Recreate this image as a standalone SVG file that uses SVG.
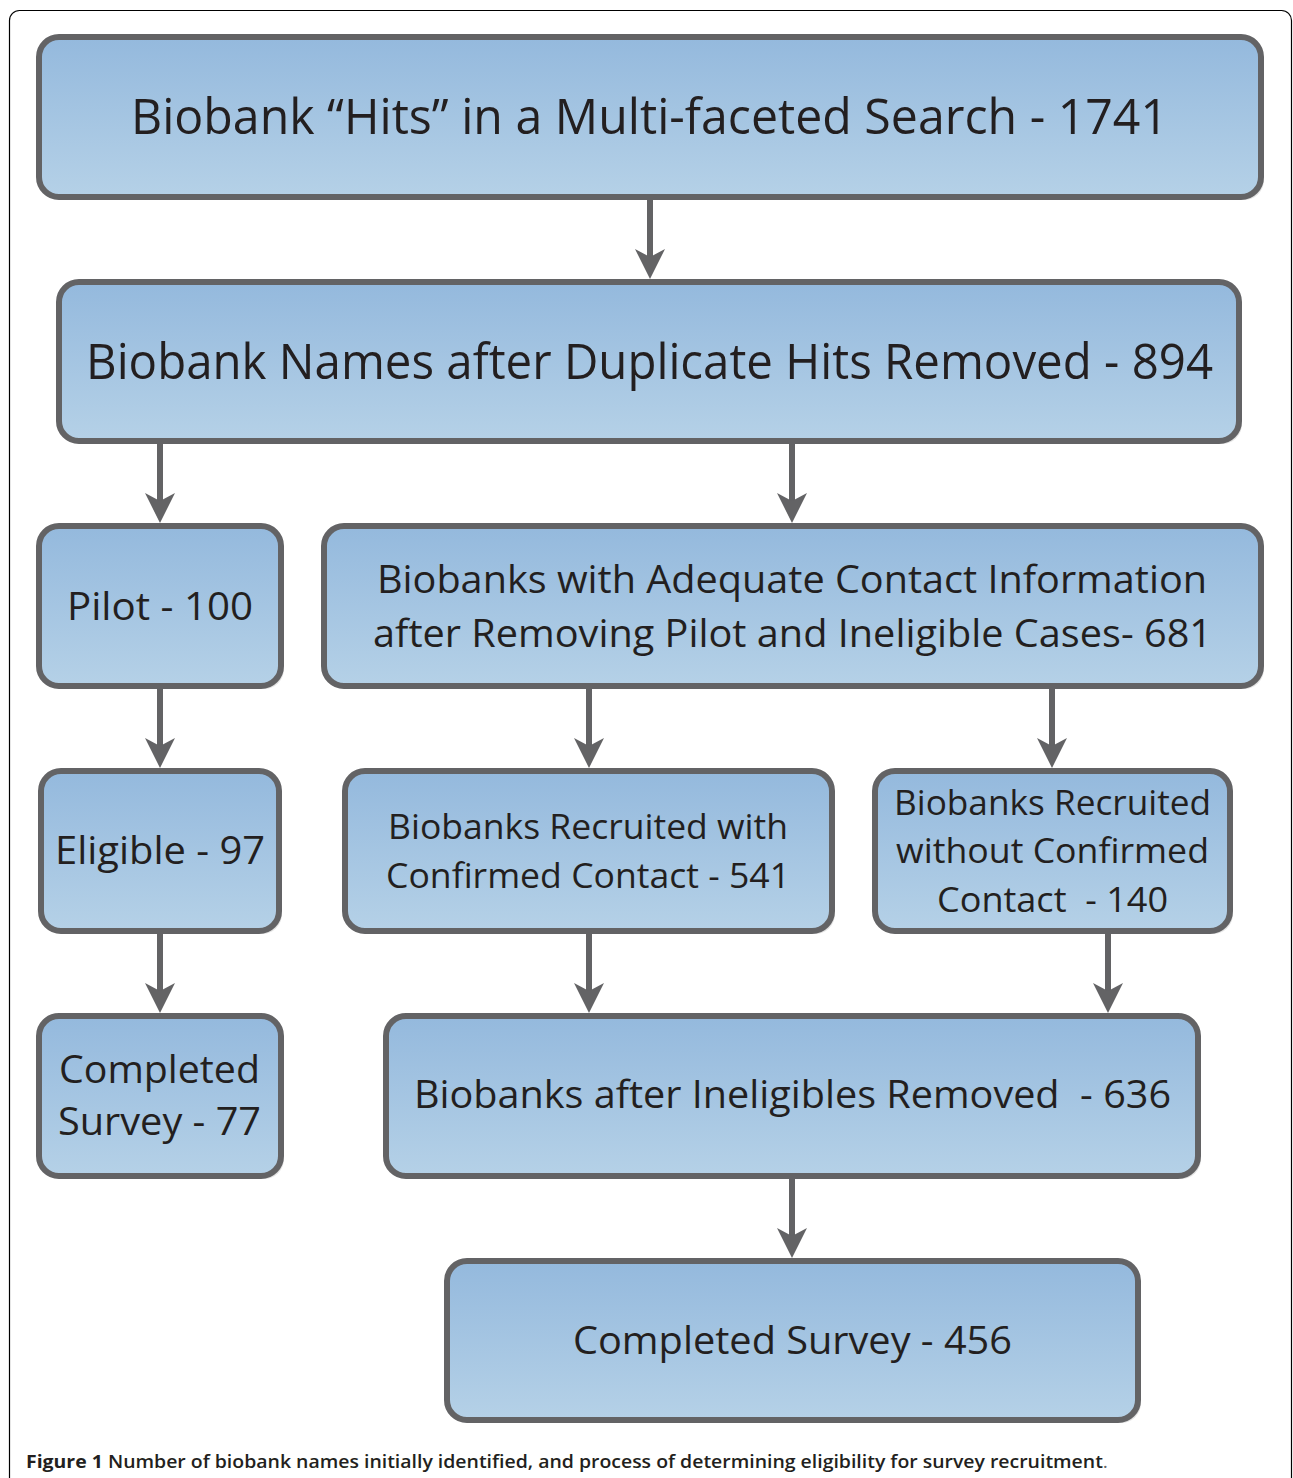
<svg xmlns="http://www.w3.org/2000/svg" width="1293" height="1478" viewBox="0 0 1293 1478">
<defs>
<linearGradient id="g" x1="0" y1="0" x2="0" y2="1">
<stop offset="0" stop-color="#94b9dd"/>
<stop offset="1" stop-color="#b5d1e7"/>
</linearGradient>
<marker id="ah" viewBox="0 0 30 30" refX="20" refY="15" markerWidth="30" markerHeight="30" markerUnits="userSpaceOnUse" orient="auto">
<path d="M0,0 L30,15 L0,30 L8,15 Z" fill="#636365"/>
</marker>
<style>
.b{fill:url(#g);stroke:#636365;stroke-width:6}
.sh{fill:#e4e4e4}
.t{font-family:"Open Sans","Noto Sans","DejaVu Sans",sans-serif;fill:#231f20}
.c{stroke:#636365;stroke-width:6;fill:none;marker-end:url(#ah)}
.cap{font-family:"Open Sans","Liberation Sans",sans-serif;font-size:18px;fill:#231f20;font-weight:600}
</style>
</defs>
<rect x="9.5" y="10.5" width="1282" height="1520" rx="10" fill="#fff" stroke="#000" stroke-width="1.2"/>
<g id="n1"><rect class="sh" x="42" y="40" width="1222" height="160" rx="20"/><rect class="b" x="39" y="37" width="1222" height="160" rx="20"/>
<text class="t" x="131" y="134" font-size="49" textLength="1037" lengthAdjust="spacingAndGlyphs">Biobank “Hits” in a Multi-faceted Search - 1741</text></g>
<g id="n2"><rect class="sh" x="62" y="285" width="1180" height="159" rx="20"/><rect class="b" x="59" y="282" width="1180" height="159" rx="20"/>
<text class="t" x="86" y="379" font-size="49" textLength="1127" lengthAdjust="spacingAndGlyphs">Biobank Names after Duplicate Hits Removed - 894</text></g>
<g id="n3"><rect class="sh" x="42" y="529" width="242" height="160" rx="20"/><rect class="b" x="39" y="526" width="242" height="160" rx="20"/>
<text class="t" x="67" y="620" font-size="39" textLength="186" lengthAdjust="spacingAndGlyphs">Pilot - 100</text></g>
<g id="n4"><rect class="sh" x="327" y="529" width="937" height="160" rx="20"/><rect class="b" x="324" y="526" width="937" height="160" rx="20"/>
<text class="t" x="377" y="593" font-size="39" textLength="830" lengthAdjust="spacingAndGlyphs">Biobanks with Adequate Contact Information</text>
<text class="t" x="373" y="647" font-size="39" textLength="839" lengthAdjust="spacingAndGlyphs">after Removing Pilot and Ineligible Cases- 681</text></g>
<g id="n5"><rect class="sh" x="44" y="774" width="238" height="160" rx="20"/><rect class="b" x="41" y="771" width="238" height="160" rx="20"/>
<text class="t" x="55" y="864" font-size="39" textLength="210" lengthAdjust="spacingAndGlyphs">Eligible - 97</text></g>
<g id="n6"><rect class="sh" x="348" y="774" width="487" height="160" rx="20"/><rect class="b" x="345" y="771" width="487" height="160" rx="20"/>
<text class="t" x="388" y="839" font-size="35" textLength="400" lengthAdjust="spacingAndGlyphs">Biobanks Recruited with</text>
<text class="t" x="386" y="888" font-size="35" textLength="404" lengthAdjust="spacingAndGlyphs">Confirmed Contact - 541</text></g>
<g id="n7"><rect class="sh" x="878" y="774" width="355" height="160" rx="20"/><rect class="b" x="875" y="771" width="355" height="160" rx="20"/>
<text class="t" x="894" y="815" font-size="35" textLength="317" lengthAdjust="spacingAndGlyphs">Biobanks Recruited</text>
<text class="t" x="896" y="863" font-size="35" textLength="313" lengthAdjust="spacingAndGlyphs">without Confirmed</text>
<text class="t" x="937" y="912" font-size="35" textLength="231" lengthAdjust="spacingAndGlyphs" xml:space="preserve">Contact  - 140</text></g>
<g id="n8"><rect class="sh" x="42" y="1019" width="242" height="160" rx="20"/><rect class="b" x="39" y="1016" width="242" height="160" rx="20"/>
<text class="t" x="59" y="1083" font-size="39" textLength="201" lengthAdjust="spacingAndGlyphs">Completed</text>
<text class="t" x="58" y="1135" font-size="39" textLength="203" lengthAdjust="spacingAndGlyphs">Survey - 77</text></g>
<g id="n9"><rect class="sh" x="389" y="1019" width="812" height="160" rx="20"/><rect class="b" x="386" y="1016" width="812" height="160" rx="20"/>
<text class="t" x="414" y="1108" font-size="38" textLength="757" lengthAdjust="spacingAndGlyphs" xml:space="preserve">Biobanks after Ineligibles Removed  - 636</text></g>
<g id="n10"><rect class="sh" x="450" y="1264" width="691" height="159" rx="20"/><rect class="b" x="447" y="1261" width="691" height="159" rx="20"/>
<text class="t" x="573" y="1354" font-size="39" textLength="439" lengthAdjust="spacingAndGlyphs">Completed Survey - 456</text></g>
<g id="connectors">
<path class="c" d="M650,200 V269"/>
<path class="c" d="M160,444 V513"/>
<path class="c" d="M792,444 V513"/>
<path class="c" d="M160,689 V758"/>
<path class="c" d="M589,689 V758"/>
<path class="c" d="M1052,689 V758"/>
<path class="c" d="M160,934 V1003"/>
<path class="c" d="M589,934 V1003"/>
<path class="c" d="M1108,934 V1003"/>
<path class="c" d="M792,1179 V1248"/>
</g>
<text class="cap" x="26" y="1468" textLength="1082" lengthAdjust="spacingAndGlyphs"><tspan font-weight="700">Figure 1</tspan> Number of biobank names initially identified, and process of determining eligibility for survey recruitment<tspan font-weight="400" fill="#666">.</tspan></text>
</svg>
